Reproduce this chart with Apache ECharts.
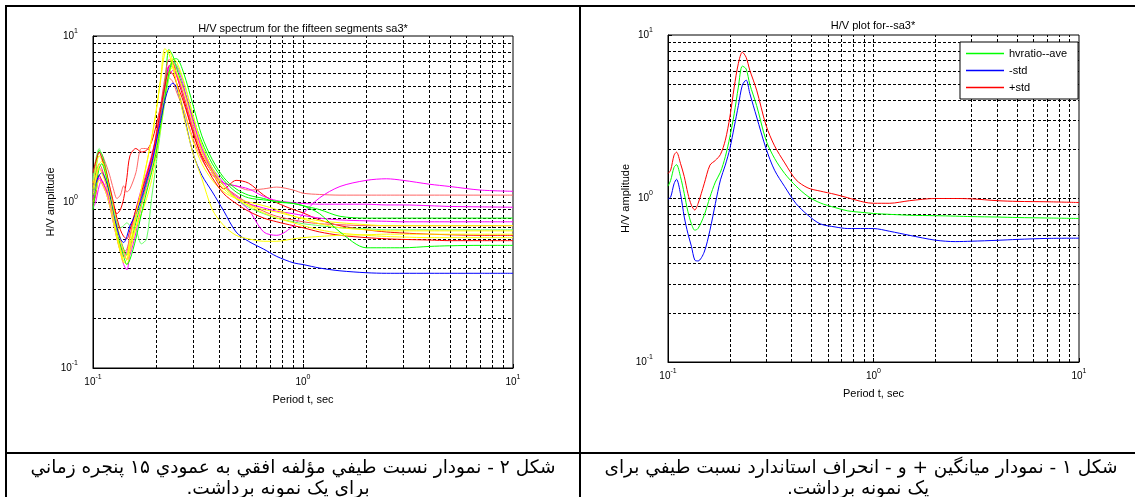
<!DOCTYPE html>
<html><head><meta charset="utf-8">
<script src="https://cdn.jsdelivr.net/npm/echarts@6/dist/echarts.min.js"></script>
<style>html,body{margin:0;padding:0;background:#fff}#c{width:1135px;height:497px}</style>
</head><body><div id="c"></div>
<script>
// ---------- data: left chart (15 segments) ----------
const periodSeg = [0.1,0.103,0.107,0.11,0.115,0.12,0.125,0.13,0.135,0.14,0.145,0.15,0.16,0.17,0.18,0.19,0.2,0.21,0.22,0.23,0.24,0.25,0.27,0.3,0.33,0.37,0.42,0.48,0.55,0.65,0.75,0.9,1.0,1.2,1.5,2,2.5,3,4,5,7,10];
const seg01 = [0.95,1.1,1.45,1.35,1.2,1.05,0.95,0.85,0.9,1.05,1.4,1.9,2.1,2.0,2.05,2.3,2.9,3.8,5.2,6.6,6.8,5.8,4.2,2.6,1.9,1.5,1.2,1.35,1.3,1.1,0.99,0.9,0.86,0.78,0.72,0.68,0.66,0.65,0.64,0.635,0.63,0.63];
const seg02 = [1.3,1.7,2.0,1.95,1.7,1.45,1.2,1.05,1.1,1.25,1.15,1.2,1.5,2.1,2.1,2.0,2.4,3.4,4.8,5.6,5.3,4.6,3.6,2.4,1.8,1.45,1.3,1.25,1.18,1.2,1.23,1.18,1.13,1.11,1.1,1.1,1.1,1.1,1.1,1.1,1.1,1.1];
const seg03 = [1.05,1.2,1.4,1.3,1.15,0.95,0.75,0.6,0.5,0.42,0.39,0.5,0.8,1.1,1.4,1.75,2.3,3.4,4.9,6.4,7.0,6.6,5.0,3.0,2.1,1.6,1.3,1.05,0.9,0.66,0.63,0.72,0.85,1.06,1.24,1.35,1.38,1.35,1.28,1.24,1.18,1.16];
const seg04 = [1.15,1.3,1.6,1.55,1.3,1.0,0.8,0.62,0.52,0.47,0.5,0.62,0.9,1.2,1.5,1.9,2.5,3.6,5.3,6.6,6.5,5.8,4.4,2.8,2.0,1.5,1.3,1.25,1.2,1.08,1.02,0.99,0.98,0.97,0.97,0.97,0.96,0.96,0.95,0.94,0.935,0.93];
const seg05 = [1.1,1.5,2.05,1.95,1.6,1.2,0.9,0.72,0.6,0.52,0.48,0.55,0.75,1.0,1.3,1.65,2.2,3.2,5.0,8.3,7.6,6.4,4.8,3.2,2.3,1.7,1.35,1.15,1.06,1.03,1.01,0.98,0.95,0.9,0.82,0.8,0.8,0.8,0.8,0.8,0.8,0.8];
const seg06 = [0.92,1.0,1.25,1.35,1.2,1.0,0.85,0.7,0.6,0.5,0.45,0.48,0.65,0.95,1.25,1.6,2.2,3.1,4.5,5.8,6.2,5.9,4.8,3.1,2.1,1.55,1.25,1.08,0.98,0.92,0.88,0.85,0.83,0.8,0.78,0.77,0.765,0.76,0.76,0.76,0.76,0.76];
const seg07 = [1.25,1.45,1.7,1.6,1.35,1.1,0.85,0.65,0.55,0.5,0.52,0.62,0.85,1.1,1.4,1.8,2.6,3.8,5.6,7.2,7.0,6.0,4.4,2.7,2.0,1.55,1.25,1.1,0.98,0.88,0.82,0.78,0.76,0.74,0.73,0.72,0.72,0.72,0.72,0.72,0.72,0.72];
const seg08 = [1.3,1.6,1.9,1.8,1.5,1.2,0.95,0.75,0.6,0.5,0.45,0.55,0.8,1.2,1.7,2.4,3.5,5.6,8.4,7.8,6.4,5.2,3.6,2.3,1.7,1.35,1.15,1.05,1.0,0.95,0.9,0.82,0.8,0.77,0.75,0.73,0.72,0.72,0.72,0.72,0.72,0.72];
const seg09 = [1.35,1.8,2.1,1.9,1.55,1.2,0.9,0.75,0.7,0.72,0.75,0.72,0.68,0.56,0.6,1.05,1.7,2.7,4.0,5.6,6.9,6.7,5.3,3.3,2.2,1.6,1.25,1.05,0.93,0.85,0.8,0.76,0.74,0.72,0.7,0.69,0.68,0.68,0.68,0.68,0.68,0.68];
const seg10 = [1.0,1.15,1.35,1.3,1.15,0.95,0.75,0.6,0.5,0.44,0.42,0.5,0.7,0.95,1.2,1.55,2.1,3.0,4.4,6.0,6.5,6.0,4.7,2.9,2.0,1.5,1.2,1.05,0.96,0.9,0.87,0.82,0.79,0.74,0.7,0.68,0.67,0.67,0.67,0.67,0.67,0.67];
const seg11 = [1.5,1.75,2.0,1.85,1.55,1.25,1.0,0.8,0.68,0.62,0.6,0.68,0.9,1.15,1.45,1.85,2.5,3.6,5.0,6.1,5.9,5.2,4.0,2.6,1.85,1.4,1.12,0.98,0.88,0.8,0.76,0.72,0.7,0.66,0.63,0.61,0.6,0.595,0.59,0.585,0.585,0.585];
const seg12 = [1.2,1.4,1.7,1.75,1.5,1.15,0.85,0.62,0.5,0.43,0.45,0.55,0.7,0.85,1.05,1.35,1.9,2.8,4.2,5.9,7.3,7.0,5.4,3.3,2.2,1.6,1.25,1.06,0.95,0.86,0.8,0.75,0.72,0.68,0.65,0.63,0.62,0.615,0.61,0.61,0.61,0.61];
const seg13 = [0.9,1.2,1.6,1.7,1.45,1.1,0.85,0.65,0.55,0.47,0.42,0.45,0.6,0.85,1.15,1.5,2.0,2.9,4.3,6.0,7.2,7.3,6.0,3.8,2.5,1.8,1.4,1.2,1.1,1.05,1.0,0.98,0.95,0.85,0.66,0.53,0.53,0.53,0.54,0.545,0.548,0.548];
const seg14 = [1.1,1.3,1.45,1.5,1.35,1.1,0.85,0.7,0.6,0.57,0.62,0.72,0.85,1.05,1.35,1.7,2.3,3.1,4.1,4.9,5.2,4.9,3.4,1.95,1.45,1.15,0.88,0.66,0.58,0.52,0.47,0.43,0.42,0.4,0.385,0.375,0.372,0.372,0.372,0.372,0.372,0.372];
const seg15 = [1.1,1.35,1.6,1.5,1.3,1.05,0.82,0.64,0.52,0.46,0.48,0.6,0.85,1.2,1.7,2.4,3.6,5.4,7.9,8.2,6.8,5.2,3.3,1.95,1.38,0.9,0.72,0.63,0.6,0.58,0.58,0.6,0.61,0.62,0.63,0.635,0.64,0.64,0.64,0.64,0.64,0.64];
const segments = [seg01,seg02,seg03,seg04,seg05,seg06,seg07,seg08,seg09,seg10,seg11,seg12,seg13,seg14,seg15];
const segColors = ['#ff0000','#ff6666','#ff00ff','#ff00ff','#00ff00','#ff00ff','#ff5555','#ffff00','#66ff66','#ffff00','#ff0000','#ffff00','#00ff00','#0000ff','#ffff00'];

// ---------- data: right chart (mean and +/- std) ----------
const periodAvg = [0.1,0.103,0.107,0.11,0.115,0.12,0.125,0.13,0.135,0.14,0.15,0.16,0.17,0.18,0.19,0.2,0.21,0.22,0.23,0.24,0.25,0.27,0.3,0.33,0.37,0.42,0.48,0.55,0.65,0.75,0.9,1.0,1.2,1.5,2,2.5,3,4,5,7,10];
const hvAve   = [1.19,1.29,1.55,1.61,1.36,1.07,0.83,0.70,0.64,0.655,0.79,1.02,1.26,1.45,1.8,2.38,3.3,4.8,6.45,6.2,5.0,3.7,2.27,1.76,1.42,1.19,1.03,0.94,0.88,0.84,0.82,0.81,0.80,0.79,0.785,0.78,0.775,0.77,0.765,0.76,0.755];
const hvMinus = [0.99,1.02,1.23,1.31,1.07,0.77,0.61,0.51,0.42,0.415,0.47,0.64,0.93,1.3,1.6,2.02,2.74,3.7,4.93,5.3,4.4,3.15,2.02,1.49,1.18,0.93,0.79,0.70,0.67,0.655,0.655,0.655,0.63,0.595,0.556,0.545,0.548,0.555,0.562,0.57,0.572];
const hvPlus  = [1.42,1.49,1.84,1.92,1.64,1.36,1.07,0.91,0.85,0.93,1.23,1.6,1.71,1.86,2.27,3.15,4.8,6.7,7.85,7.3,6.1,4.6,2.8,2.1,1.65,1.3,1.16,1.11,1.06,1.01,0.95,0.935,0.935,0.97,1.0,1.0,0.995,0.97,0.96,0.955,0.945];
const legendNames = ['hvratio--ave','-std','+std'];

// ---------- axes / grid values and texts ----------
const gridValues = [0.2,0.3,0.4,0.5,0.6,0.7,0.8,0.9,1,2,3,4,5,6,7,8,9];
const titleLeft = 'H/V spectrum for the fifteen segments sa3*';
const titleRight = 'H/V plot for--sa3*';
const xName = 'Period t, sec';
const yName = 'H/V amplitude';
const captionLeft1 = 'شكل ۲ - نمودار نسبت طيفي مؤلفه افقي به عمودي ۱۵ پنجره زماني';
const captionLeft2 = 'براي يک نمونه برداشت.\u200F';
const captionRight1 = 'شكل ۱ - نمودار ميانگين + و - انحراف استاندارد نسبت طيفي براى';
const captionRight2 = 'يک نمونه برداشت.\u200F';

const FONT = '"Liberation Sans", Arial, sans-serif';
const CAP_FONT = '18.5px "DejaVu Sans"';
const pair = (xs, ys) => xs.map((x, i) => [x, ys[i]]);

function tickLabel(v) {
  const e = Math.round(Math.log10(v));
  return '{b|10}{s|' + e + '}';
}
const richLbl = {
  b: {fontSize: 10, fontFamily: FONT, color: '#000'},
  s: {fontSize: 7, fontFamily: FONT, color: '#000', padding: [0, 0, 10, 0]}
};

function makeX(idx) {
  return {
    type: 'log', logBase: 10, gridIndex: idx, min: 0.1, max: 10, splitNumber: 2,
    axisLine: {show: true, onZero: false, lineStyle: {color: '#000', width: 1}},
    axisTick: {show: true, inside: true, length: 4, lineStyle: {color: '#000'}},
    splitLine: {show: false},
    axisLabel: {formatter: tickLabel, rich: richLbl, margin: 6},
    name: xName, nameLocation: 'middle', nameGap: 26,
    nameTextStyle: {fontSize: 11, fontFamily: FONT, color: '#000'}
  };
}
function makeY(idx) {
  return {
    type: 'log', logBase: 10, gridIndex: idx, min: 0.1, max: 10, splitNumber: 2,
    axisLine: {show: true, onZero: false, lineStyle: {color: '#000', width: 1}},
    axisTick: {show: true, inside: true, length: 4, lineStyle: {color: '#000'}},
    splitLine: {show: false},
    axisLabel: {formatter: tickLabel, rich: richLbl, margin: 15},
    name: yName, nameLocation: 'middle', nameGap: 33, nameRotate: 90,
    nameTextStyle: {fontSize: 11, fontFamily: FONT, color: '#000'}
  };
}
function gridLines(idx) {
  return {
    type: 'line', xAxisIndex: idx, yAxisIndex: idx, data: [[1, 1]], symbol: 'none', silent: true,
    lineStyle: {opacity: 0}, z: 1,
    markLine: {
      silent: true, symbol: ['none', 'none'], label: {show: false}, animation: false, z: 1,
      lineStyle: {color: '#000', type: [3, 2], width: 1},
      emphasis: {disabled: true},
      data: gridValues.map(v => ({xAxis: v})).concat(gridValues.map(v => ({yAxis: v})))
    }
  };
}

const series = [gridLines(0), gridLines(1)];
segments.forEach((s, i) => {
  series.push({
    type: 'line', name: 'seg' + (i + 1), xAxisIndex: 0, yAxisIndex: 0,
    data: pair(periodSeg, s), showSymbol: false, symbol: 'none', smooth: 0.3, z: 3,
    lineStyle: {color: segColors[i], width: 1}, itemStyle: {color: segColors[i]}, silent: true
  });
});
[[hvAve, '#00ff00'], [hvMinus, '#0000ff'], [hvPlus, '#ff0000']].forEach((p, i) => {
  series.push({
    type: 'line', name: legendNames[i], xAxisIndex: 1, yAxisIndex: 1,
    data: pair(periodAvg, p[0]), showSymbol: false, symbol: 'none', smooth: 0.3, z: 3,
    lineStyle: {color: p[1], width: 1}, itemStyle: {color: p[1]}, silent: true
  });
});

const black = {fill: '#000'};
const option = {
  animation: false,
  backgroundColor: '#fff',
  grid: [
    {left: 93, top: 36, width: 420, height: 332, show: true, borderColor: '#000', borderWidth: 1, backgroundColor: '#fff'},
    {left: 668, top: 35, width: 411, height: 327, show: true, borderColor: '#000', borderWidth: 1, backgroundColor: '#fff'}
  ],
  xAxis: [makeX(0), makeX(1)],
  yAxis: [makeY(0), makeY(1)],
  legend: {
    data: legendNames, orient: 'vertical', left: 960, top: 42, selectedMode: false,
    icon: 'rect', itemWidth: 38, itemHeight: 1.5, itemGap: 6,
    padding: [6, 11, 6, 6], borderColor: '#000', borderWidth: 1, backgroundColor: '#fff',
    textStyle: {fontSize: 11, fontFamily: FONT, color: '#000'}
  },
  series: series,
  graphic: [
    {type: 'rect', shape: {x: 5, y: 5, width: 1135, height: 2}, style: black, silent: true},
    {type: 'rect', shape: {x: 5, y: 5, width: 2, height: 497}, style: black, silent: true},
    {type: 'rect', shape: {x: 579, y: 5, width: 2, height: 497}, style: black, silent: true},
    {type: 'rect', shape: {x: 5, y: 452, width: 1135, height: 2}, style: black, silent: true},
    {type: 'text', x: 303, y: 28.5, silent: true, style: {text: titleLeft, fill: '#000', font: '11px ' + FONT, align: 'center', verticalAlign: 'middle'}},
    {type: 'text', x: 873, y: 26, silent: true, style: {text: titleRight, fill: '#000', font: '11px ' + FONT, align: 'center', verticalAlign: 'middle'}},
    {type: 'text', x: 293, y: 468, silent: true, style: {text: captionLeft1, fill: '#000', font: CAP_FONT, align: 'center', verticalAlign: 'middle'}},
    {type: 'text', x: 278, y: 489, silent: true, style: {text: captionLeft2, fill: '#000', font: CAP_FONT, align: 'center', verticalAlign: 'middle'}},
    {type: 'text', x: 861, y: 468, silent: true, style: {text: captionRight1, fill: '#000', font: CAP_FONT, align: 'center', verticalAlign: 'middle'}},
    {type: 'text', x: 858, y: 489, silent: true, style: {text: captionRight2, fill: '#000', font: CAP_FONT, align: 'center', verticalAlign: 'middle'}}
  ]
};
const chart = echarts.init(document.getElementById('c'), null, {renderer: 'canvas'});
chart.setOption(option);
</script></body></html>
